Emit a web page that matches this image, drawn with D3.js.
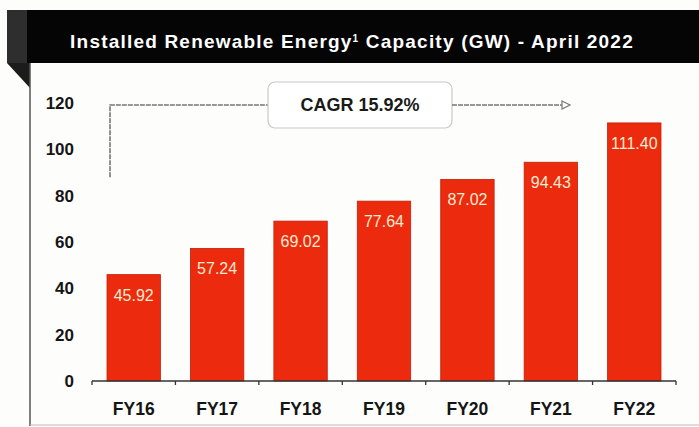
<!DOCTYPE html>
<html>
<head>
<meta charset="utf-8">
<script src="https://cdn.jsdelivr.net/npm/d3@7"></script>
<style>
  body { margin: 0; background: #fdfdfc; }
  svg { display: block; font-family: "Liberation Sans", Arial, sans-serif; }
</style>
</head>
<body>
<svg></svg>
<script>
// chart data
var years = ["FY16", "FY17", "FY18", "FY19", "FY20", "FY21", "FY22"];
var capacity = [45.92, 57.24, 69.02, 77.64, 87.02, 94.43, 111.40];
var yTicks = [0, 20, 40, 60, 80, 100, 120];
var cagrLabel = "CAGR 15.92%";
var title = "Installed Renewable Energy";
var titleRest = " Capacity (GW) - April 2022";

var width = 699;
var height = 427;

var svg = d3.select("svg")
    .attr("width", width)
    .attr("height", height);

// header band with the folded corner
svg.append("rect")
    .attr("x", 7).attr("y", 10)
    .attr("width", width - 7).attr("height", 53)
    .attr("fill", "#050505");
svg.append("rect")
    .attr("x", 7).attr("y", 10)
    .attr("width", 20).attr("height", 53)
    .attr("fill", "#2e2e2e");
svg.append("path")
    .attr("d", "M7,63 L30,63 L30,88 Z")
    .attr("fill", "#1c1c1c");

var t = svg.append("text")
    .attr("x", 352).attr("y", 48)
    .attr("text-anchor", "middle")
    .attr("fill", "#fff")
    .attr("font-weight", "bold")
    .attr("font-size", 19)
    .attr("letter-spacing", 1.2)
    .text(title);
t.append("tspan").attr("dy", -6).attr("font-size", 10).text("1");
t.append("tspan").attr("dy", 6).text(titleRest);

// panel border
svg.append("path")
    .attr("d", "M30,63 L30,426")
    .attr("stroke", "#555")
    .attr("stroke-width", 1.5);
svg.append("path")
    .attr("d", "M30,425 L699,425")
    .attr("stroke", "#bbb")
    .attr("stroke-width", 1);

// scales
var x = d3.scaleBand()
    .domain(years)
    .range([92, 676])
    .paddingInner(0.36)
    .paddingOuter(0.18);

var y = d3.scaleLinear()
    .domain([0, 120])
    .range([381, 103]);

// bars
svg.selectAll("rect.bar")
    .data(capacity)
    .enter()
    .append("rect")
      .attr("class", "bar")
      .attr("x", (d, i) => x(years[i]))
      .attr("y", d => y(d))
      .attr("width", x.bandwidth())
      .attr("height", d => y(0) - y(d))
      .attr("fill", "#ec2a0e")
      .attr("stroke", "#c41e08")
      .attr("stroke-width", 0.8);

// value labels inside bars
svg.selectAll("text.val")
    .data(capacity)
    .enter()
    .append("text")
      .attr("class", "val")
      .attr("x", (d, i) => x(years[i]) + x.bandwidth() / 2)
      .attr("y", d => y(d) + 26)
      .attr("text-anchor", "middle")
      .attr("fill", "#f8ecd0")
      .attr("font-size", 16)
      .text(d => d.toFixed(2));

// y axis labels (no line)
var yAxis = svg.append("g")
    .attr("transform", "translate(74,0)")
    .call(d3.axisLeft(y).tickValues(yTicks).tickSize(0).tickPadding(0));
yAxis.select(".domain").remove();
yAxis.selectAll("text")
    .attr("font-family", "Liberation Sans, Arial, sans-serif")
    .attr("font-size", 17)
    .attr("font-weight", "bold")
    .attr("fill", "#151515");

// x axis with ticks at category boundaries
var xAxis = svg.append("g")
    .attr("transform", "translate(0,381)");
xAxis.append("line")
    .attr("x1", 92).attr("x2", 676)
    .attr("stroke", "#333").attr("stroke-width", 1.3);
xAxis.selectAll("line.tick")
    .data(d3.range(years.length + 1))
    .enter()
    .append("line")
      .attr("class", "tick")
      .attr("x1", i => 92 + i * x.step())
      .attr("x2", i => 92 + i * x.step())
      .attr("y1", 0).attr("y2", 4)
      .attr("stroke", "#333").attr("stroke-width", 1.3);
xAxis.selectAll("text")
    .data(years)
    .enter()
    .append("text")
      .attr("x", d => x(d) + x.bandwidth() / 2)
      .attr("y", 34)
      .attr("text-anchor", "middle")
      .attr("font-size", 17.5)
      .attr("font-weight", "bold")
      .attr("fill", "#151515")
      .text(d => d);

// CAGR annotation
var lineY = y(120) + 2;
var startX = x(years[0]) + 3;
svg.append("path")
    .attr("d", `M${startX},${y(88)} L${startX},${lineY} L268,${lineY}`)
    .attr("fill", "none")
    .attr("stroke", "#777")
    .attr("stroke-width", 1.6)
    .attr("stroke-dasharray", "5,1");

svg.append("rect")
    .attr("x", 268).attr("y", 82)
    .attr("width", 184).attr("height", 46)
    .attr("rx", 7)
    .attr("fill", "#fff")
    .attr("stroke", "#c8c8c8")
    .attr("stroke-width", 1.2);

svg.append("text")
    .attr("x", 360).attr("y", lineY + 6)
    .attr("text-anchor", "middle")
    .attr("font-size", 18)
    .attr("font-weight", "bold")
    .attr("fill", "#1a1a1a")
    .text(cagrLabel);

svg.append("path")
    .attr("d", `M452,${lineY} L563,${lineY}`)
    .attr("stroke", "#777")
    .attr("stroke-width", 1.6)
    .attr("stroke-dasharray", "5,1");
svg.append("path")
    .attr("d", `M562,${lineY - 4} L570,${lineY} L562,${lineY + 4} Z`)
    .attr("fill", "#fff")
    .attr("stroke", "#777")
    .attr("stroke-width", 1.2);
</script>
</body>
</html>
